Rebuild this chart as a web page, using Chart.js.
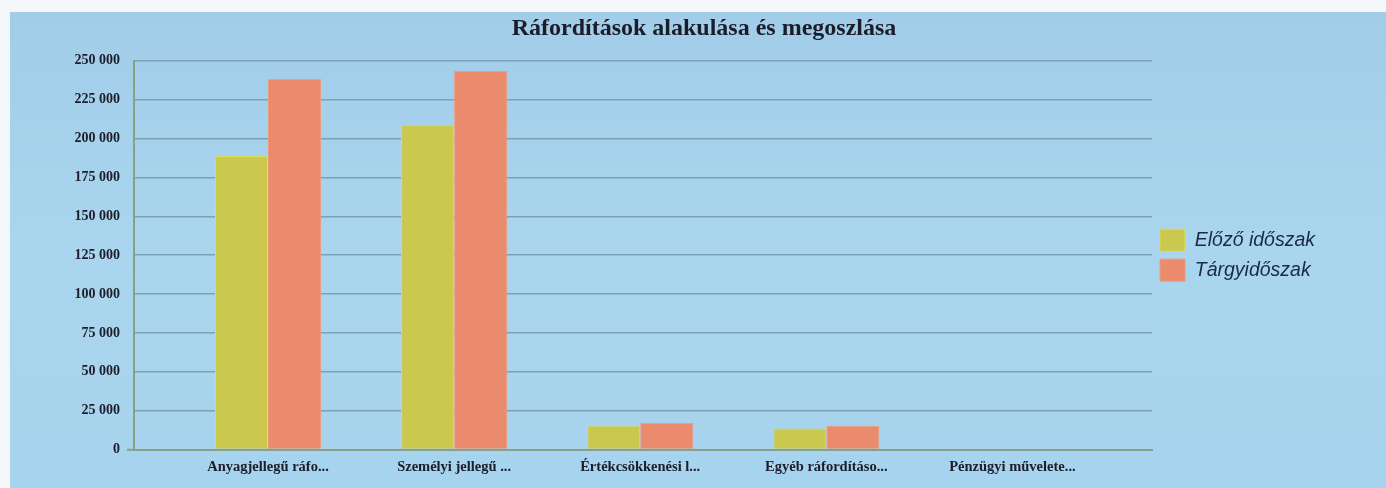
<!DOCTYPE html>
<html>
<head>
<meta charset="utf-8">
<script src="https://cdn.jsdelivr.net/npm/chart.js@4"></script>
<style>
  html, body { margin: 0; padding: 0; background: #f3f7f9; }
  #wrap {
    position: absolute; left: 10px; top: 12px; width: 1376px; height: 476px;
    background: linear-gradient(180deg, #a1cde9 0%, #aad5ee 50%, #a6d3ed 100%);
  }
</style>
</head>
<body>
<div id="wrap"><canvas id="chart"></canvas></div>
<script>
// chart data
const categories = [
  "Anyagjellegű ráfo...",
  "Személyi jellegű ...",
  "Értékcsökkenési l...",
  "Egyéb ráfordításo...",
  "Pénzügyi művelete..."
];
const previousPeriod = [188800, 208800, 15400, 13500, 0];
const currentPeriod = [238400, 243600, 17300, 15400, 0];
const seriesNames = ["Előző időszak", "Tárgyidőszak"];
const yMax = 250000;
const yStep = 25000;

const axisGreen = '#8a9f88';
const inkDark = '#1d1d2a';

// "250 000" style thousands separator
function fmt(v) {
  return String(v).replace(/\B(?=(\d{3})+(?!\d))/g, ' ');
}

// legend keeps a fixed minimum width so the plot ends where the original does
const legendWidth = {
  id: 'legendWidth',
  beforeLayout(chart) {
    const lg = chart.legend;
    if (lg && !lg._widened) {
      const fit = lg.fit;
      lg.fit = function () {
        fit.call(this);
        this.width = Math.max(this.width, 186);
      };
      lg._widened = true;
    }
  }
};

const ctx = document.getElementById('chart').getContext('2d');

new Chart(ctx, {
  type: 'bar',
  data: {
    labels: categories.map((_, i) => i),
    datasets: [
      {
        label: seriesNames[0],
        data: previousPeriod,
        backgroundColor: '#cbc84f',
        borderColor: '#dcdc60',
        borderWidth: 1
      },
      {
        label: seriesNames[1],
        data: currentPeriod,
        backgroundColor: '#ea8b6d',
        borderColor: '#ef9a7c',
        borderWidth: 1
      }
    ]
  },
  plugins: [legendWidth],
  options: {
    responsive: true,
    maintainAspectRatio: false,
    animation: false,
    devicePixelRatio: 1,
    categoryPercentage: 0.57,
    barPercentage: 1.0,
    layout: {
      padding: { left: 60, right: 48, top: 0, bottom: 3 }
    },
    plugins: {
      title: {
        display: true,
        text: 'Ráfordítások alakulása és megoszlása',
        color: inkDark,
        font: { family: 'Liberation Serif', size: 24, weight: 'bold' },
        padding: { top: 2, bottom: 18 }
      },
      legend: {
        position: 'right',
        fullSize: false,
        labels: {
          boxWidth: 25,
          boxHeight: 22,
          padding: 8,
          color: '#1b2a45',
          font: { family: 'Liberation Sans', size: 19.5, style: 'italic' }
        }
      },
      tooltip: { enabled: false }
    },
    scales: {
      x: {
        type: 'linear',
        min: -0.72,
        max: 4.75,
        offset: false,
        grid: { display: false, drawTicks: false },
        border: { display: true, color: axisGreen, width: 2 },
        afterBuildTicks: axis => {
          axis.ticks = categories.map((_, i) => ({ value: i }));
        },
        ticks: {
          autoSkip: false,
          maxRotation: 0,
          padding: 9,
          color: inkDark,
          font: { family: 'Liberation Serif', size: 14.5, weight: 'bold' },
          callback: v => categories[v] ?? ''
        }
      },
      y: {
        min: 0,
        max: yMax,
        afterFit: axis => { axis.width = 64; },
        grid: {
          color: c => c.tick && c.tick.value === 0 ? axisGreen : '#7ca1b3',
          lineWidth: 1.5,
          drawTicks: true,
          tickLength: 7,
          tickColor: c => c.tick && c.tick.value === 0 ? axisGreen : 'rgba(0,0,0,0)',
          tickWidth: 2
        },
        border: { color: axisGreen, width: 2 },
        ticks: {
          stepSize: yStep,
          padding: 7,
          color: inkDark,
          font: { family: 'Liberation Serif', size: 14, weight: 'bold' },
          callback: v => fmt(v)
        }
      }
    }
  }
});
</script>
</body>
</html>
